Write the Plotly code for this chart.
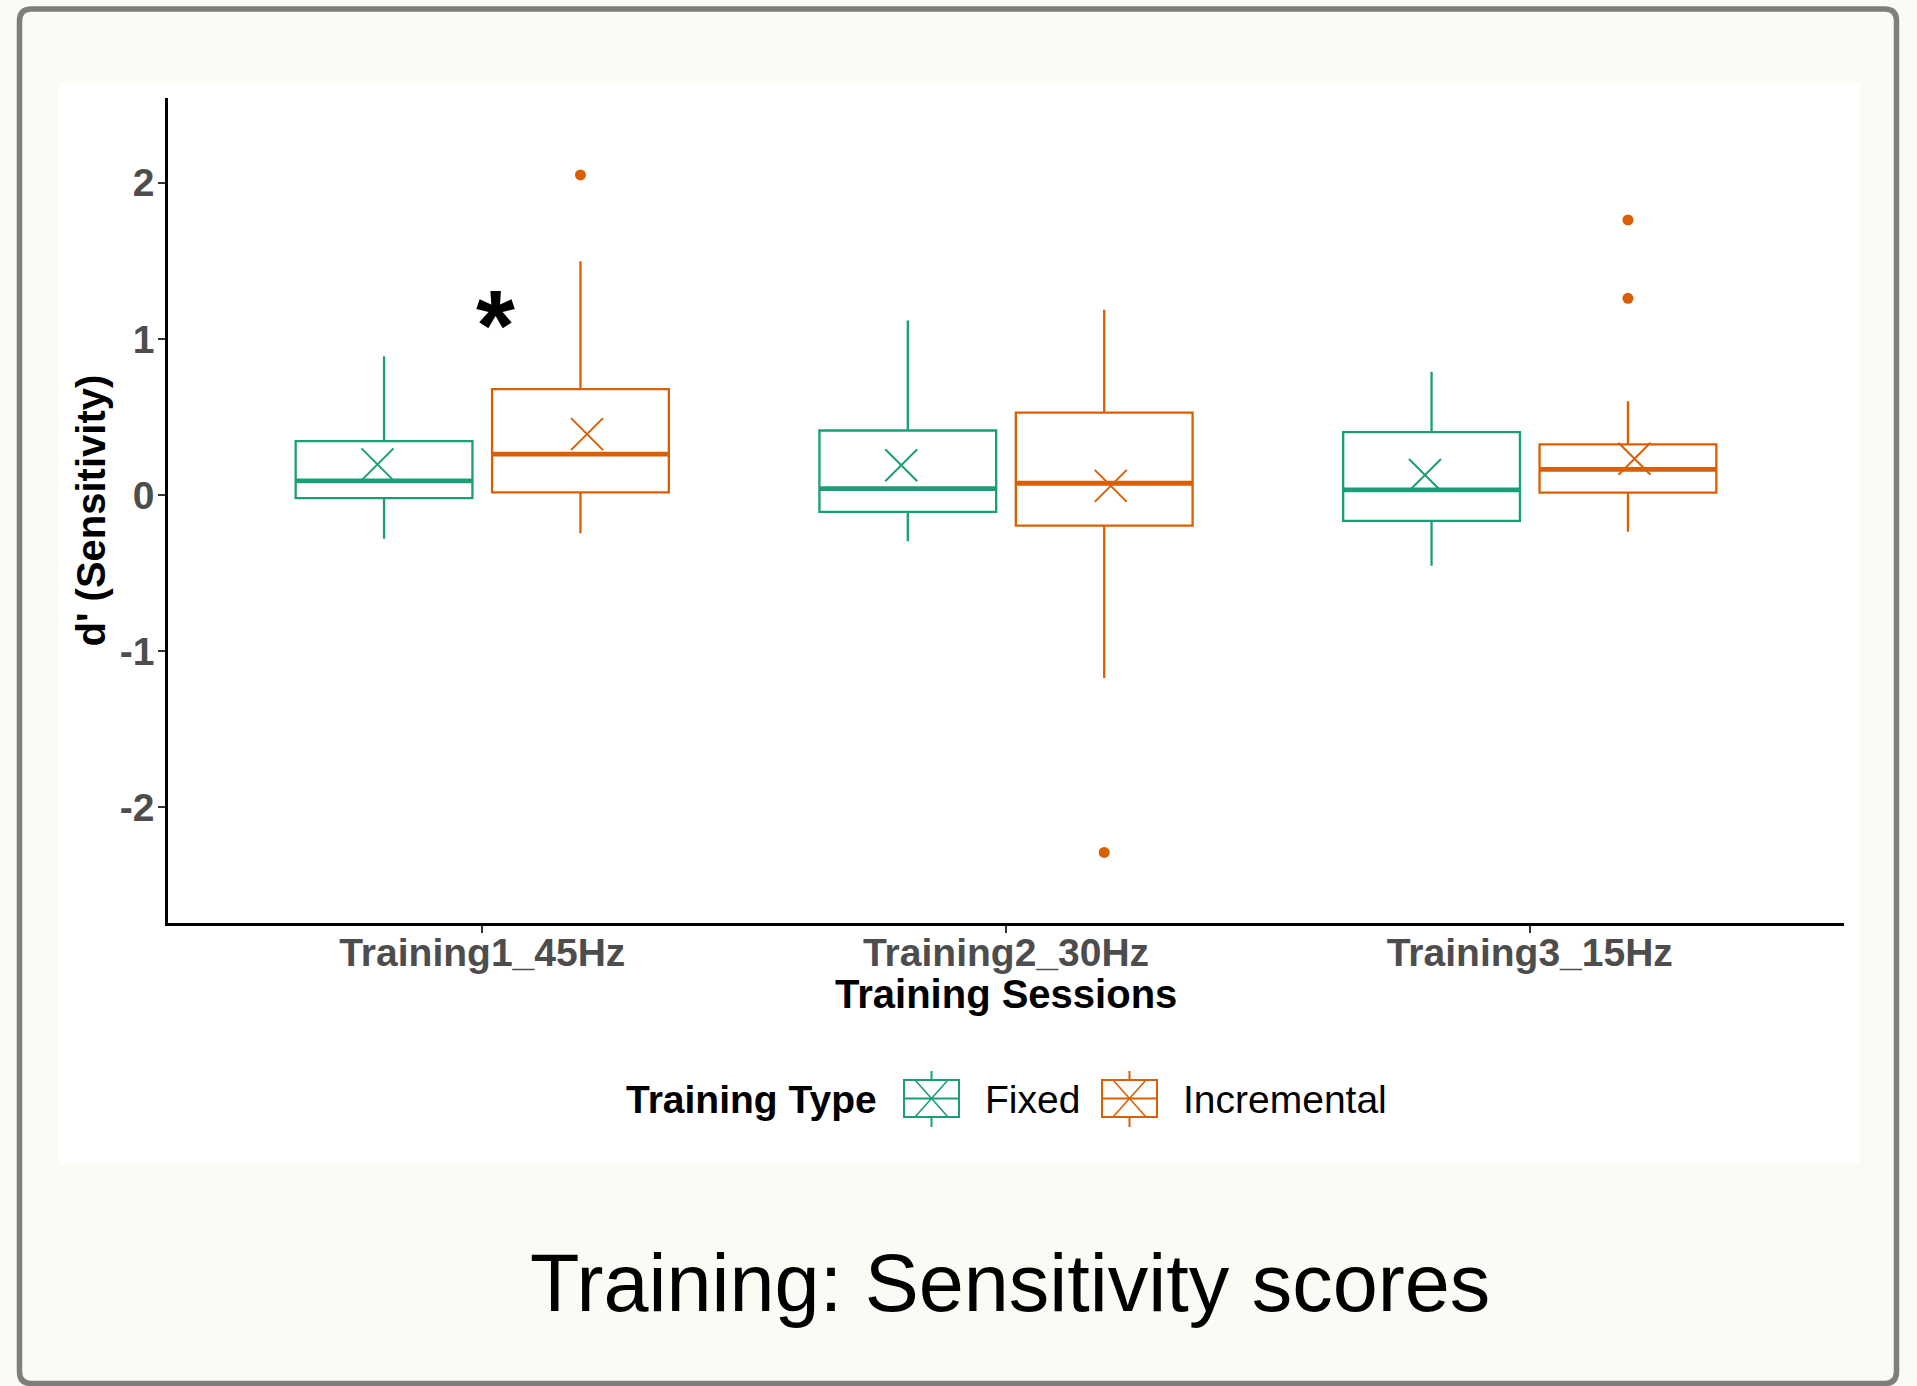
import plotly.graph_objects as go

# ---------------- data ----------------
sessions = ["Training1_45Hz", "Training2_30Hz", "Training3_15Hz"]
groups = ["Fixed", "Incremental"]
colors = ["#1b9e77", "#d95f02"]

fixed_q1 = [-0.020, -0.108, -0.166]
fixed_median = [0.090, 0.041, 0.032]
fixed_q3 = [0.345, 0.413, 0.403]
fixed_lower = [-0.280, -0.297, -0.454]
fixed_upper = [0.889, 1.118, 0.789]
fixed_mean = [0.196, 0.190, 0.128]

inc_q1 = [0.017, -0.196, 0.015]
inc_median = [0.262, 0.075, 0.164]
inc_q3 = [0.678, 0.528, 0.324]
inc_lower = [-0.245, -1.173, -0.235]
inc_upper = [1.497, 1.187, 0.601]
inc_mean = [0.390, 0.058, 0.232]

inc_outlier_session = [0, 1, 2, 2]
inc_outlier_value = [2.05, -2.29, 1.762, 1.26]

y_ticks = [-2, -1, 0, 1, 2]
y_ticktext = ["-2", "-1", "0", "1", "2"]

signif_label = "*"
signif_session = 0
signif_y = 1.18

title_text = "Training: Sensitivity scores"
x_title = "Training Sessions"
y_title = "d' (Sensitivity)"
legend_title = "Training Type"

# ---------------- geometry ----------------
W, H = 1917, 1386
L, R, T, B = 168, 1844, 98, 923
DODGE = 0.1875
BOXW = 0.3375
MEAN_DODGE = 0.2
BG = "#fbfaf4"


def fx(px):
    return (px - L) / (R - L)


def fy(py):
    return (B - py) / (B - T)


stats = [
    dict(q1=fixed_q1, med=fixed_median, q3=fixed_q3, lo=fixed_lower, hi=fixed_upper, mean=fixed_mean),
    dict(q1=inc_q1, med=inc_median, q3=inc_q3, lo=inc_lower, hi=inc_upper, mean=inc_mean),
]
offsets = [-DODGE, DODGE]
mean_offsets = [-MEAN_DODGE, MEAN_DODGE]

fig = go.Figure()

for g, (name, col, st, off, moff) in enumerate(zip(groups, colors, stats, offsets, mean_offsets)):
    xs = [i + off for i in range(len(sessions))]
    fig.add_trace(go.Box(
        name=name, x=xs, q1=st["q1"], median=st["med"], q3=st["q3"],
        lowerfence=st["lo"], upperfence=st["hi"],
        width=BOXW, whiskerwidth=0, boxpoints=False,
        fillcolor="white", line=dict(color=col, width=2.3),
        showlegend=False, hoverinfo="skip",
    ))
    # thick median segments
    mx, my = [], []
    for x, m in zip(xs, st["med"]):
        mx += [x - BOXW / 2, x + BOXW / 2, None]
        my += [m, m, None]
    fig.add_trace(go.Scatter(x=mx, y=my, mode="lines", line=dict(color=col, width=4.8),
                             showlegend=False, hoverinfo="skip"))
    # mean crosses
    fig.add_trace(go.Scatter(
        x=[i + moff for i in range(len(sessions))], y=st["mean"], mode="markers",
        marker=dict(symbol="x-thin-open", size=32, color=col, line=dict(color=col, width=2)),
        showlegend=False, hoverinfo="skip"))

# outliers (Incremental)
fig.add_trace(go.Scatter(
    x=[s + DODGE for s in inc_outlier_session], y=inc_outlier_value, mode="markers",
    marker=dict(symbol="circle", size=11, color=colors[1]),
    showlegend=False, hoverinfo="skip"))

# ---------------- shapes: panel, border, legend keys ----------------
shapes = []
# white panel
shapes.append(dict(type="rect", xref="paper", yref="paper", layer="below",
                   x0=fx(59), x1=fx(1860), y0=fy(1163), y1=fy(83),
                   fillcolor="white", line=dict(width=0)))
# rounded outer border
bx0, bx1, by0, by1, rr = 19.5, 1896.5, 9, 1383.5, 12
path = (f"M {fx(bx0+rr)},{fy(by0)} L {fx(bx1-rr)},{fy(by0)} Q {fx(bx1)},{fy(by0)} {fx(bx1)},{fy(by0+rr)} "
        f"L {fx(bx1)},{fy(by1-rr)} Q {fx(bx1)},{fy(by1)} {fx(bx1-rr)},{fy(by1)} "
        f"L {fx(bx0+rr)},{fy(by1)} Q {fx(bx0)},{fy(by1)} {fx(bx0)},{fy(by1-rr)} "
        f"L {fx(bx0)},{fy(by0+rr)} Q {fx(bx0)},{fy(by0)} {fx(bx0+rr)},{fy(by0)} Z")
shapes.append(dict(type="path", xref="paper", yref="paper", layer="below", path=path,
                   line=dict(color="#7f7f7a", width=5.5)))

# legend keys
key_left = [904, 1102]
key_w, key_top, key_bot = 55, 1080, 1117
for kx, col in zip(key_left, colors):
    cx = kx + key_w / 2
    cy = (key_top + key_bot) / 2
    shapes.append(dict(type="line", xref="paper", yref="paper", x0=fx(cx), x1=fx(cx),
                       y0=fy(key_top - 9), y1=fy(key_bot + 10), line=dict(color=col, width=2)))
    shapes.append(dict(type="rect", xref="paper", yref="paper", x0=fx(kx), x1=fx(kx + key_w),
                       y0=fy(key_bot), y1=fy(key_top), fillcolor="white", line=dict(color=col, width=2)))
    shapes.append(dict(type="line", xref="paper", yref="paper", x0=fx(kx), x1=fx(kx + key_w),
                       y0=fy(cy), y1=fy(cy), line=dict(color=col, width=2)))
    shapes.append(dict(type="line", xref="paper", yref="paper", x0=fx(cx - 16.5), x1=fx(cx + 16.5),
                       y0=fy(key_top), y1=fy(key_bot), line=dict(color=col, width=1.6)))
    shapes.append(dict(type="line", xref="paper", yref="paper", x0=fx(cx - 16.5), x1=fx(cx + 16.5),
                       y0=fy(key_bot), y1=fy(key_top), line=dict(color=col, width=1.6)))

# ---------------- annotations ----------------
FONT = "Liberation Sans"
ann = []
ann.append(dict(text=x_title, xref="paper", yref="paper", x=0.5, y=fy(994), xanchor="center",
                yanchor="middle", showarrow=False,
                font=dict(family=FONT, size=40, color="black", weight="bold")))
ann.append(dict(text=y_title, xref="paper", yref="paper", x=fx(90), y=0.5, xanchor="center",
                yanchor="middle", showarrow=False, textangle=-90,
                font=dict(family=FONT, size=40, color="black", weight="bold")))
ann.append(dict(text=legend_title, xref="paper", yref="paper", x=fx(624), y=fy(1099), xanchor="left",
                yanchor="middle", showarrow=False,
                font=dict(family=FONT, size=39, color="black", weight="bold")))
for name, lx in zip(groups, [983, 1181]):
    ann.append(dict(text=name, xref="paper", yref="paper", x=fx(lx), y=fy(1099), xanchor="left",
                    yanchor="middle", showarrow=False,
                    font=dict(family=FONT, size=39, color="black")))
ann.append(dict(text=title_text, xref="paper", yref="paper", x=fx(1010), y=fy(1283), xanchor="center",
                yanchor="middle", showarrow=False,
                font=dict(family=FONT, size=81, color="black")))
ann.append(dict(text=signif_label, xref="x", yref="y", x=signif_session + 0.026, y=signif_y,
                xanchor="center", yanchor="middle", showarrow=False, yshift=-14,
                font=dict(family=FONT, size=100, color="black", weight="bold")))

fig.update_layout(
    width=W, height=H,
    margin=dict(l=L, r=W - R, t=T, b=H - B, autoexpand=False),
    paper_bgcolor=BG, plot_bgcolor="white",
    shapes=shapes, annotations=ann, showlegend=False,
    boxmode="overlay",
    xaxis=dict(range=[-0.6, 2.6], tickvals=list(range(len(sessions))), ticktext=sessions,
               showgrid=False, zeroline=False, showline=True, linecolor="black", linewidth=2.5,
               ticks="outside", ticklen=7, tickwidth=2, tickcolor="#333333", ticklabelstandoff=-14,
               tickfont=dict(family=FONT, size=39, color="#4d4d4d", weight="bold"),
               automargin=False, fixedrange=True),
    yaxis=dict(range=[-2.742, 2.543], tickvals=y_ticks, ticktext=y_ticktext,
               showgrid=False, zeroline=False, showline=True, linecolor="black", linewidth=2.5,
               ticks="outside", ticklen=7, tickwidth=2, tickcolor="#333333", ticklabelstandoff=-4,
               tickfont=dict(family=FONT, size=39, color="#4d4d4d", weight="bold"),
               automargin=False, fixedrange=True),
)

fig.write_html("out.html", config={"displayModeBar": False},
               post_script=f"document.body.style.margin='0';document.body.style.background='{BG}';")
